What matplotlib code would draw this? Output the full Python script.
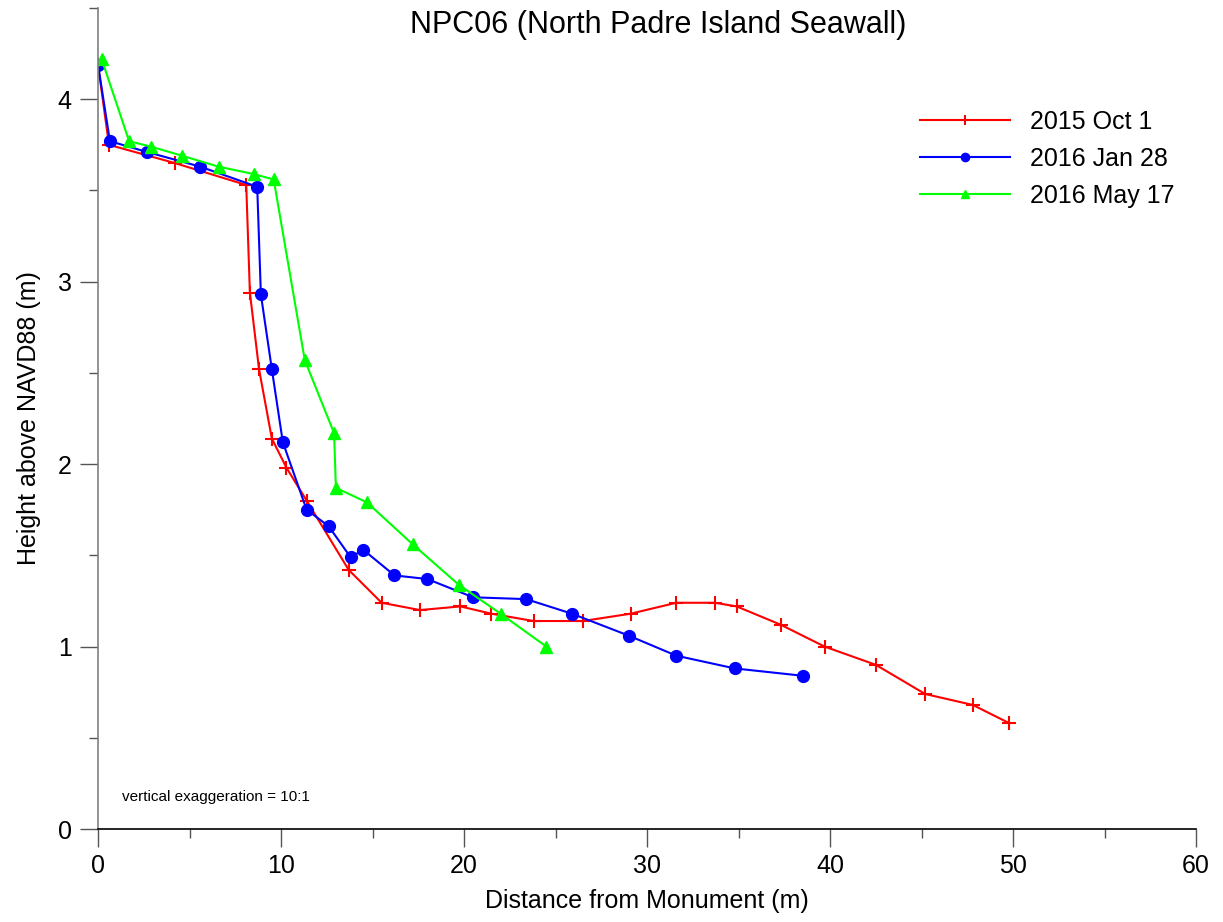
import matplotlib
matplotlib.use("Agg")
import matplotlib.pyplot as plt
from matplotlib.ticker import MultipleLocator

plt.rcParams['font.family'] = ['Liberation Sans', 'DejaVu Sans']

# Data
oct_x = [0.0, 0.6, 4.2, 8.1, 8.3, 8.8, 9.5, 10.3, 11.4, 13.7, 15.5, 17.6, 19.8,
         21.5, 23.8, 26.5, 29.1, 31.6, 33.7, 34.9, 37.3, 39.7, 42.5, 45.2, 47.8, 49.8]
oct_y = [4.19, 3.75, 3.65, 3.53, 2.94, 2.52, 2.14, 1.98, 1.80, 1.42, 1.24, 1.20, 1.22,
         1.18, 1.14, 1.14, 1.18, 1.24, 1.24, 1.22, 1.12, 1.00, 0.90, 0.74, 0.68, 0.58]

jan_x = [0.0, 0.65, 2.7, 5.6, 8.7, 8.9, 9.5, 10.1, 11.4, 12.6, 13.8, 14.5, 16.2,
         18.0, 20.5, 23.4, 25.9, 29.0, 31.6, 34.8, 38.5]
jan_y = [4.19, 3.77, 3.71, 3.63, 3.52, 2.93, 2.52, 2.12, 1.75, 1.66, 1.49, 1.53, 1.39,
         1.37, 1.27, 1.26, 1.18, 1.06, 0.95, 0.88, 0.84]

may_x = [0.2, 1.7, 2.9, 4.6, 6.6, 8.5, 9.6, 11.3, 12.9, 13.0, 14.7, 17.2, 19.7, 22.0, 24.5]
may_y = [4.22, 3.77, 3.74, 3.69, 3.63, 3.59, 3.56, 2.57, 2.17, 1.87, 1.79, 1.56, 1.34, 1.18, 1.00]

labels = ['2015 Oct 1', '2016 Jan 28', '2016 May 17']

W, H = 1223, 922
fig = plt.figure(figsize=(W/100, H/100), dpi=100)
ax = fig.add_axes([98/W, 1-829/H, (1196-98)/W, (829-8)/H])

ax.plot(oct_x, oct_y, color='#FF0000', lw=1.5, marker='+', ms=10, mew=1.5, label=labels[0])
ax.plot(jan_x, jan_y, color='#0000FF', lw=1.5, marker='o', ms=8.5, label=labels[1])
ax.plot(may_x, may_y, color='#00FF00', lw=1.5, marker='^', ms=8.5, label=labels[2])

ax.set_xlim(0, 60)
ax.set_ylim(0, 4.5)
ax.spines['top'].set_visible(False)
ax.spines['right'].set_visible(False)
ax.spines['left'].set_color('#808080')
ax.spines['bottom'].set_color('black')
ax.spines['left'].set_linewidth(1.2)
ax.spines['bottom'].set_linewidth(1.2)

ax.xaxis.set_major_locator(MultipleLocator(10))
ax.xaxis.set_minor_locator(MultipleLocator(5))
ax.yaxis.set_major_locator(MultipleLocator(1))
ax.yaxis.set_minor_locator(MultipleLocator(0.5))
ax.tick_params(axis='both', which='major', length=13, width=1, color='#555555',
               labelsize=18, direction='out')
ax.tick_params(axis='both', which='minor', length=6.5, width=1, color='#555555', direction='out')
ax.tick_params(axis='x', which='major', pad=5)
ax.tick_params(axis='y', which='major', pad=6)

ax.set_xlabel('Distance from Monument (m)', fontsize=18, labelpad=8)
ax.set_ylabel('Height above NAVD88 (m)', fontsize=18, labelpad=12)

fig.text(658/W, 1-25/H, 'NPC06 (North Padre Island Seawall)',
         ha='center', va='center', fontsize=22)
ax.text(1.3, 0.175, 'vertical exaggeration = 10:1', fontsize=11, ha='left', va='center')

leg = ax.legend(loc='upper left', bbox_to_anchor=(920/W, 1-110/H),
                bbox_transform=fig.transFigure, frameon=False, fontsize=18,
                handlelength=3.6, handletextpad=0.8, labelspacing=0.52,
                borderpad=0, borderaxespad=0, markerscale=0.7)

fig.savefig('out.png', dpi=100)
